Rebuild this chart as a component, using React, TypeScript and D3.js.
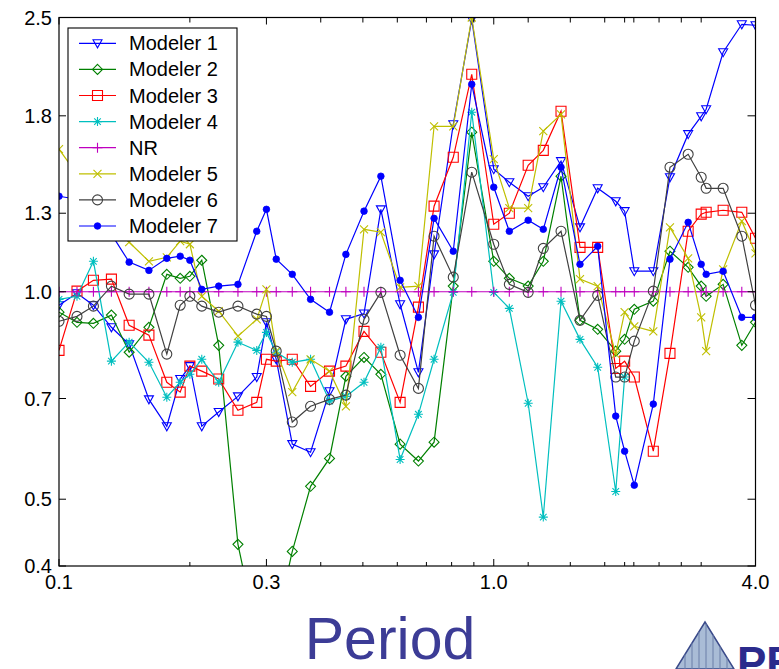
import React from 'react';
import * as d3 from 'd3';

const periods = [0.1,0.11,0.12,0.132,0.145,0.161,0.177,0.19,0.2,0.213,0.233,0.258,0.285,0.3,0.316,0.344,0.379,0.419,0.457,0.503,0.55,0.609,0.671,0.729,0.807,0.89,1.0,1.086,1.2,1.3,1.428,1.579,1.734,1.908,2.0,2.105,2.328,2.543,2.8,3.0,3.08,3.37,3.72,4.0];

const modeler1 = [0.956,0.995,0.956,0.888,0.839,0.698,0.638,0.747,0.78,0.638,0.669,0.705,0.752,0.903,0.798,0.601,0.585,0.717,0.912,0.93,1.317,0.959,0.764,1.133,1.75,2.485,1.506,1.442,1.376,1.418,1.547,1.24,1.413,1.353,1.309,1.071,1.071,1.466,1.693,1.797,1.84,2.226,2.444,2.436];
const modeler2 = [0.934,0.903,0.9,0.925,0.817,0.888,1.06,1.046,1.053,1.111,0.836,0.43,0.32,0.3,0.33,0.42,0.522,0.573,0.754,0.803,0.759,0.601,0.568,0.605,1.019,1.704,1.107,1.046,1.019,1.107,1.471,0.909,0.882,0.82,0.853,0.943,0.969,1.145,1.085,1.019,0.985,1.025,0.836,0.903];
const modeler3 = [0.822,1.002,1.039,1.043,0.894,0.865,0.739,0.715,0.78,0.767,0.747,0.673,0.691,0.798,0.793,0.798,0.729,0.767,0.78,0.876,0.817,0.691,0.95,1.331,1.567,2.068,1.253,1.3,1.526,1.604,1.828,1.16,1.16,0.774,0.793,0.752,0.587,0.814,1.224,1.296,1.304,1.313,1.304,1.196];
const modeler4 = [0.975,0.985,1.107,0.793,0.845,0.79,0.703,0.739,0.759,0.798,0.739,0.845,0.822,0.873,0.817,0.79,0.798,0.694,0.705,0.739,0.831,0.571,0.664,0.798,0.998,1.822,0.998,0.946,0.689,0.471,0.969,0.853,0.777,0.513,0.752];
const nr = [1,1,1,1,1,1,1,1,1,1,1,1,1,1,1,1,1,1,1,1,1,1,1,1,1,1,1,1,1,1,1,1,1,1,1,1,1,1,1,1,1,1,1,1];
const modeler5 = [1.61,1.481,1.362,1.253,1.18,1.107,1.122,1.184,1.172,0.985,0.937,0.862,0.912,1.008,0.82,0.715,0.798,0.767,0.682,1.232,1.22,1.015,1.019,1.738,1.738,2.5,1.557,1.322,1.322,1.71,1.809,1.043,1.019,0.812,0.934,0.891,0.876,1.24,1.118,0.918,0.82,1.078,1.266,1.137];
const modeler6 = [0.906,0.921,0.953,1.019,0.992,0.992,0.812,0.956,0.985,0.953,0.934,0.953,0.928,0.921,0.82,0.647,0.682,0.698,0.708,0.912,0.998,0.809,0.724,1.204,1.05,1.491,1.172,1.025,0.998,1.156,1.224,0.909,0.988,0.752,0.752,0.848,1.002,1.516,1.583,1.466,1.413,1.413,1.204,0.956];
const modeler7 = [1.376,1.362,1.296,1.212,1.104,1.074,1.118,1.126,1.111,1.008,1.019,1.025,1.224,1.317,1.115,1.06,0.975,0.934,1.133,1.309,1.471,1.039,0.918,1.278,1.145,2.0,1.418,1.224,1.27,1.232,1.516,1.096,1.164,0.66,0.587,0.524,0.687,1.115,1.261,1.096,1.06,1.071,0.918,0.918];

const seriesNames = ['Modeler 1','Modeler 2','Modeler 3','Modeler 4','NR','Modeler 5','Modeler 6','Modeler 7'];
const seriesValues = [modeler1, modeler2, modeler3, modeler4, nr, modeler5, modeler6, modeler7];
const seriesColors = ['#0000ff','#008000','#ff0000','#00bfbf','#bf00bf','#bfbf00','#404040','#0000ff'];
const seriesMarkers = ['tri','diamond','square','star','plus','x','circle','dot'];

const xTickLabels = [0.1, 0.3, 1.0, 4.0];
const xMinorTicks = [0.2,0.4,0.5,0.6,0.7,0.8,0.9,1.2,1.5,1.8,2.0,2.1,2.4,2.7,3.0];
const yTickLabels = [0.4,0.5,0.7,1.0,1.3,1.8,2.5];

function markerPath(type: string, cx: number, cy: number): string {
  switch (type) {
    case 'tri': return `M${cx-4.5},${cy-3.5}L${cx+4.5},${cy-3.5}L${cx},${cy+4.5}Z`;
    case 'diamond': return `M${cx},${cy-5}L${cx+5},${cy}L${cx},${cy+5}L${cx-5},${cy}Z`;
    case 'square': return `M${cx-5},${cy-5}H${cx+5}V${cy+5}H${cx-5}Z`;
    case 'star': return `M${cx-4.5},${cy}H${cx+4.5}M${cx},${cy-4.5}V${cy+4.5}M${cx-3.3},${cy-3.3}L${cx+3.3},${cy+3.3}M${cx-3.3},${cy+3.3}L${cx+3.3},${cy-3.3}`;
    case 'plus': return `M${cx-5},${cy}H${cx+5}M${cx},${cy-5}V${cy+5}`;
    case 'x': return `M${cx-4},${cy-4}L${cx+4},${cy+4}M${cx-4},${cy+4}L${cx+4},${cy-4}`;
    case 'circle': return `M${cx+5},${cy}A5,5 0 1,1 ${cx-5},${cy}A5,5 0 1,1 ${cx+5},${cy}Z`;
    default: return '';
  }
}

function Marker({type, cx, cy, color}: {type: string, cx: number, cy: number, color: string}) {
  if (type === 'dot') return <circle cx={cx} cy={cy} r={3.3} fill={color} stroke={color} strokeWidth={0.8} />;
  return <path d={markerPath(type, cx, cy)} fill="none" stroke={color} strokeWidth={1.1} />;
}

export default function App() {
  const W = 779, H = 669;
  const left = 59, right = 755.5, top = 17.5, bottom = 566;
  const x = d3.scaleLog().domain([0.1, 4]).range([left, right]);
  const y = d3.scaleLog().domain([0.4, 2.5]).range([bottom, top]);
  const line = d3.line<[number, number]>()
    .defined(d => d[1] != null)
    .x(d => x(d[0]))
    .y(d => y(d[1]));
  const font = '"Liberation Sans", Arial, sans-serif';

  const legendX = 68, legendY = 28, legendW = 169, legendH = 213;
  const rowGap = 26.1;

  return (
    <svg width={W} height={H} style={{position: 'absolute', left: 0, top: 0, background: '#fff'}} fontFamily={font}>
      <defs>
        <clipPath id="plotClip">
          <rect x={left} y={top} width={right - left} height={bottom - top} />
        </clipPath>
      </defs>
      <rect x={0} y={0} width={W} height={H} fill="#fff" />
      <g clipPath="url(#plotClip)">
        {seriesValues.map((vals, si) => {
          const pts: [number, number][] = vals.map((v, i) => [periods[i], v]);
          return (
            <g key={si}>
              <path d={line(pts) || ''} fill="none" stroke={seriesColors[si]} strokeWidth={1.2} />
              {pts.map((p, i) => (
                <Marker key={i} type={seriesMarkers[si]} cx={x(p[0])} cy={y(p[1])} color={seriesColors[si]} />
              ))}
            </g>
          );
        })}
      </g>
      <rect x={left} y={top} width={right - left} height={bottom - top} fill="none" stroke="#000" strokeWidth={1.2} />
      {xTickLabels.map((t, i) => (
        <g key={'xt' + i}>
          <line x1={x(t)} x2={x(t)} y1={bottom} y2={bottom - 7} stroke="#000" />
          <line x1={x(t)} x2={x(t)} y1={top} y2={top + 7} stroke="#000" />
          <text x={x(t)} y={589} textAnchor="middle" fontSize={20} fill="#000">{t.toFixed(1)}</text>
        </g>
      ))}
      {xMinorTicks.map((t, i) => (
        <g key={'xm' + i}>
          <line x1={x(t)} x2={x(t)} y1={bottom} y2={bottom - 4} stroke="#000" />
          <line x1={x(t)} x2={x(t)} y1={top} y2={top + 5} stroke="#000" />
        </g>
      ))}
      {yTickLabels.map((t, i) => (
        <g key={'yt' + i}>
          <line x1={left} x2={left + 7} y1={y(t)} y2={y(t)} stroke="#000" />
          <line x1={right} x2={right - 8} y1={y(t)} y2={y(t)} stroke="#000" />
          <text x={52} y={y(t) + 7} textAnchor="end" fontSize={20} fill="#000">{t.toFixed(1)}</text>
        </g>
      ))}
      <rect x={legendX} y={legendY} width={legendW} height={legendH} fill="#fff" stroke="#000" strokeWidth={1.1} />
      {seriesNames.map((name, i) => {
        const cy = 43.3 + i * rowGap;
        return (
          <g key={'lg' + i}>
            <line x1={79} x2={116} y1={cy} y2={cy} stroke={seriesColors[i]} strokeWidth={1.2} />
            <Marker type={seriesMarkers[i]} cx={97.5} cy={cy} color={seriesColors[i]} />
            <text x={129} y={cy + 7} fontSize={20} fill="#000">{name}</text>
          </g>
        );
      })}
      <text x={390} y={659} textAnchor="middle" fontSize={59} fill="#3c3c96">Period</text>
      <g>
        <polygon points="676,669 705,622 734,669" fill="#a9bcd6" stroke="#3a4a8a" strokeWidth={1.5} />
        {[685, 692, 699, 706, 713, 720, 727].map((lx, i) => (
          <line key={i} x1={lx} x2={lx} y1={669} y2={622 + Math.abs(lx - 705) * 1.62} stroke="#6b7fa8" strokeWidth={1} />
        ))}
        <text x={737} y={678} fontSize={44} fontWeight="bold" fill="#2b2b8c">PE</text>
      </g>
    </svg>
  );
}
